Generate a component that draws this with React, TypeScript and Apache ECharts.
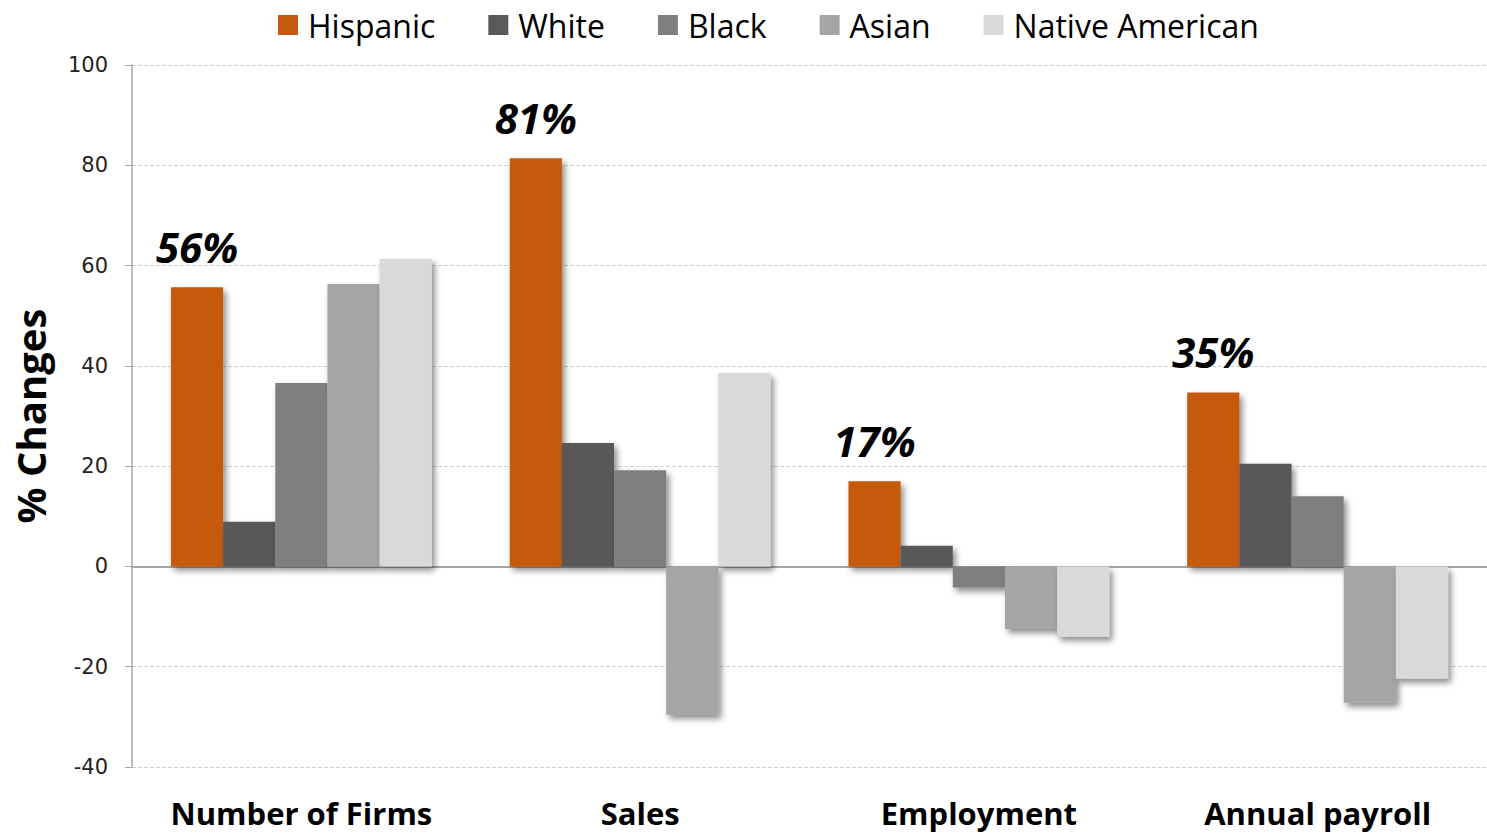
import React, { useEffect, useRef } from "react";
import * as echarts from "echarts";

const categories = ["Number of Firms", "Sales", "Employment", "Annual payroll"];
const seriesNames = ["Hispanic", "White", "Black", "Asian", "Native American"];
const hispanic = [55.7, 81.4, 17.0, 34.7];
const white = [8.9, 24.6, 4.1, 20.5];
const black = [36.6, 19.2, -4.2, 14.0];
const asian = [56.3, -29.6, -12.5, -27.2];
const nativeAmerican = [61.3, 38.6, -14.0, -22.4];
const colors = ["#C55A11", "#595959", "#7F7F7F", "#A5A5A5", "#D9D9D9"];
const yTicks = { min: -40, max: 100, interval: 20 };

export default function App() {
  const ref = useRef<HTMLDivElement>(null);
  useEffect(() => {
    if (!ref.current) return;
    const chart = echarts.init(ref.current, null, { renderer: "svg" });
    const values = [hispanic, white, black, asian, nativeAmerican];
    chart.setOption({
      animation: false,
      textStyle: { fontFamily: "Open Sans" },
      legend: {
        top: 4,
        left: 273,
        itemWidth: 20,
        itemHeight: 20,
        itemGap: 53,
        icon: "rect",
        textStyle: {
          fontSize: 32,
          color: "#000",
          fontFamily: "Open Sans",
          padding: [0, 0, 0, 5],
        },
        data: seriesNames,
      },
      grid: { left: 132, right: 0, top: 65, bottom: 67 },
      xAxis: [
        {
          type: "category",
          data: categories,
          position: "bottom",
          axisLine: { show: false, onZero: false },
          axisTick: { show: false },
          axisLabel: {
            interval: 0,
            margin: 30,
            fontSize: 31,
            fontWeight: "bold",
            color: "#000",
            fontFamily: "Open Sans",
          },
        },
        {
          type: "category",
          data: categories,
          position: "bottom",
          axisLine: { show: true, onZero: true, lineStyle: { color: "#A6A6A6", width: 2 } },
          axisTick: { show: false },
          axisLabel: { show: false },
        },
      ],
      yAxis: {
        type: "value",
        min: yTicks.min,
        max: yTicks.max,
        interval: yTicks.interval,
        name: "% Changes",
        nameLocation: "middle",
        nameGap: 82,
        nameTextStyle: { fontSize: 40, fontWeight: "bold", color: "#000", fontFamily: "Open Sans" },
        axisLine: { show: true, lineStyle: { color: "#A6A6A6", width: 1.5 } },
        axisTick: { show: true, length: 7, lineStyle: { color: "#A6A6A6" } },
        axisLabel: { fontSize: 21, color: "#222", margin: 24, fontFamily: "DejaVu Sans" },
        splitLine: { show: true, lineStyle: { color: "#D0D0D0", type: "dashed", width: 1 } },
      },
      series: seriesNames.map((name, i) => ({
        name,
        type: "bar",
        xAxisIndex: 0,
        data: values[i],
        barGap: "0%",
        barCategoryGap: "23%",
        itemStyle: {
          color: colors[i],
          shadowBlur: 6,
          shadowOffsetX: 3,
          shadowOffsetY: 4,
          shadowColor: "rgba(0,0,0,0.45)",
        },
        label:
          i === 0
            ? {
                show: true,
                position: "top",
                distance: 20,
                fontSize: 42,
                fontWeight: "bold",
                fontStyle: "italic",
                color: "#000",
                fontFamily: "Open Sans",
                formatter: (p: any) => Math.round(p.value) + "%",
              }
            : { show: false },
      })),
    });
    return () => chart.dispose();
  }, []);
  return (
    <div
      ref={ref}
      style={{ position: "absolute", left: 0, top: 0, width: 1487, height: 834, background: "#fff" }}
    />
  );
}
